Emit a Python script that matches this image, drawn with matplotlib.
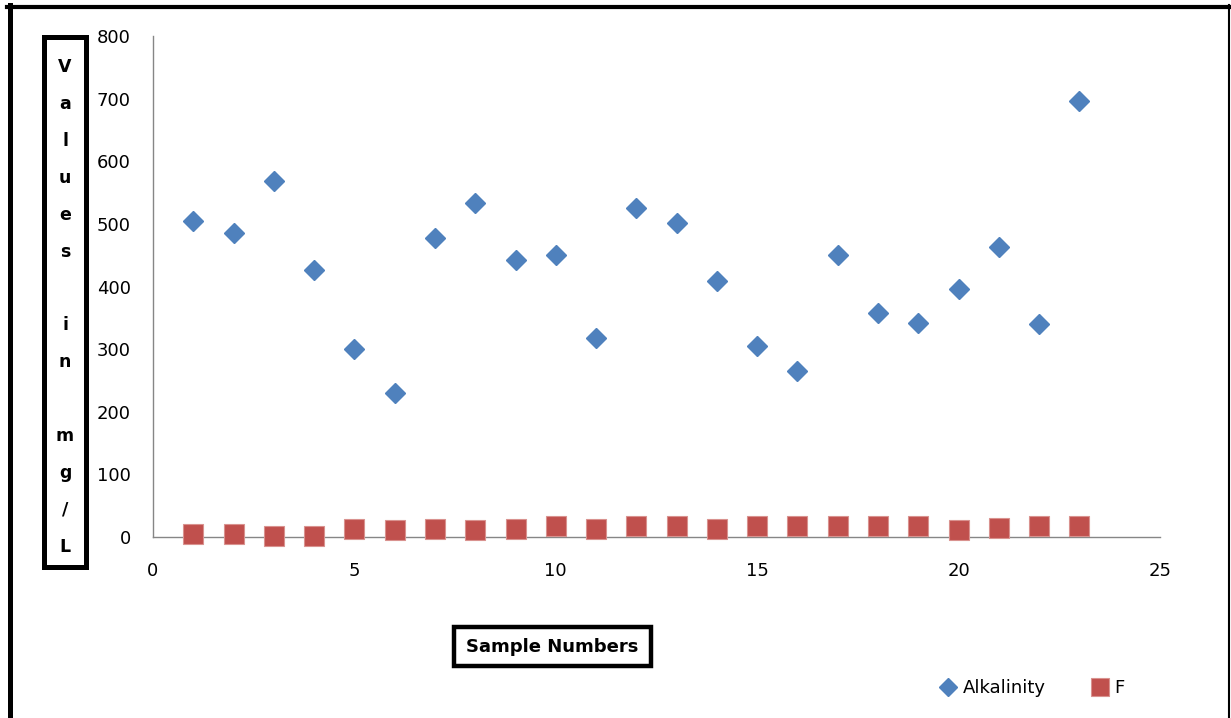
import matplotlib
matplotlib.use("Agg")
import matplotlib.pyplot as plt
from matplotlib.patches import Rectangle
from matplotlib.lines import Line2D

W, H = 1231, 718

sample_no = list(range(1, 24))
alkalinity = [504, 486, 569, 427, 300, 230, 478, 533, 442, 450, 317, 525,
              501, 408, 305, 265, 450, 357, 341, 396, 463, 340, 697]
fluoride = [5, 5, 2, 2, 13, 11, 13, 11, 13, 17, 13, 17,
            17, 13, 17, 17, 17, 17, 17, 11, 15, 17, 17]

x_ticks = [0, 5, 10, 15, 20, 25]
y_ticks = [0, 100, 200, 300, 400, 500, 600, 700, 800]

BLUE = "#4F81BD"
RED = "#C0504D"
AXIS_GREY = "#868686"


def fx(px):
    return px / W


def fy(py):
    return 1 - py / H


fig = plt.figure(figsize=(W / 100, H / 100), dpi=100)
fig.patch.set_facecolor("white")

ax = fig.add_axes([fx(153), fy(537), fx(1160) - fx(153), fy(36) - fy(537)])
ax.plot(sample_no, alkalinity, linestyle="none", marker="D", markersize=10.5,
        color=BLUE, markeredgecolor=BLUE, label="Alkalinity", clip_on=False,
        zorder=3)
ax.plot(sample_no, fluoride, linestyle="none", marker="s", markersize=15,
        color=RED, markeredgecolor="#d9928f", markeredgewidth=0.8, label="F",
        clip_on=False, zorder=3)

ax.set_xlim(0, 25)
ax.set_ylim(0, 800)
ax.set_xticks(x_ticks)
ax.set_yticks(y_ticks)
ax.tick_params(length=0, labelsize=13)
ax.tick_params(axis="y", pad=16)
ax.tick_params(axis="x", pad=18)
for side in ("top", "right"):
    ax.spines[side].set_visible(False)
for side in ("left", "bottom"):
    ax.spines[side].set_color(AXIS_GREY)
    ax.spines[side].set_linewidth(1.0)

# vertical axis title: boxed, one letter per line
fig.add_artist(Rectangle((fx(44), fy(567)), fx(86) - fx(44), fy(37) - fy(567),
                         transform=fig.transFigure, fill=False,
                         edgecolor="black", linewidth=3.6))
letters = list("Values") + [""] + list("in") + [""] + list("mg/L")
for i, ch in enumerate(letters):
    if ch:
        fig.text(fx(65), fy(67 + i * 36.9), ch, ha="center", va="center",
                 fontsize=12.5, fontweight="bold")

# horizontal axis title in its own box
fig.add_artist(Rectangle((fx(454), fy(666)), fx(651) - fx(454), fy(627) - fy(666),
                         transform=fig.transFigure, fill=False,
                         edgecolor="black", linewidth=3.2))
fig.text(fx(552), fy(647), "Sample Numbers", ha="center", va="center",
         fontsize=13, fontweight="bold")

fig.legend(loc="center", bbox_to_anchor=(fx(1032), fy(688)), ncol=2,
           frameon=False, fontsize=13, handletextpad=0.3, columnspacing=2.5,
           handlelength=1.0, markerscale=0.9)

# outer chart border (open at the bottom)
fig.add_artist(Line2D([fx(9.5), fx(9.5)], [fy(5), fy(718)],
                      transform=fig.transFigure, color="black", linewidth=3.6))
fig.add_artist(Line2D([fx(7), fx(1229)], [fy(7), fy(7)],
                      transform=fig.transFigure, color="black", linewidth=3.0))
fig.add_artist(Line2D([fx(1228.5), fx(1228.5)], [fy(5), fy(718)],
                      transform=fig.transFigure, color="black", linewidth=1.5))

fig.savefig("out.png", dpi=100)
